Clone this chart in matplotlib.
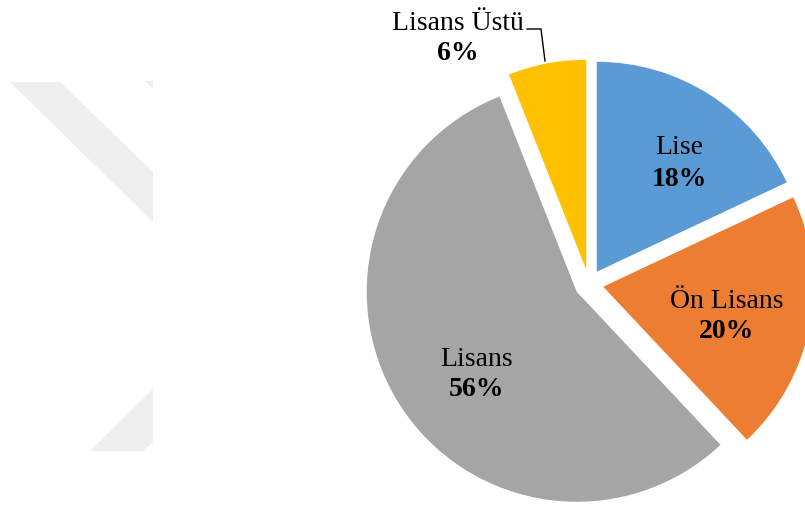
import matplotlib
matplotlib.use("Agg")
import matplotlib.pyplot as plt
from matplotlib.patches import Polygon

# data
categories = ["Lise", "Ön Lisans", "Lisans", "Lisans Üstü"]
shares = [18, 20, 56, 6]
colors = ["#5B9BD5", "#ED7D31", "#A5A5A5", "#FFC000"]

# label anchors in pixel space (x, y from top)
label_pos = [(679, 163), (727, 316), (477, 374), (458, 38)]

W, H = 805, 510


def fy(y):
    return H - y


fig = plt.figure(figsize=(W / 100, H / 100), dpi=100)
ax = fig.add_axes([0, 0, 1, 1])

# faint background watermark on the left
for pts in ([(10, 83), (60, 83), (153, 173), (153, 223)],
            [(145, 82), (153, 82), (153, 90)],
            [(90, 452), (143, 452), (153, 443), (153, 390)]):
    ax.add_patch(Polygon([(x, fy(y)) for x, y in pts], closed=True,
                         facecolor="#EFEFEF", edgecolor="none", zorder=0))

ax.pie(shares, colors=colors, startangle=90, counterclock=False,
       center=(589, fy(285)), radius=210, explode=[14.5] * len(shares),
       wedgeprops=dict(linewidth=0))

for name, val, (x, y) in zip(categories, shares, label_pos):
    ax.text(x, fy(y - 15), name, ha="center", va="center",
            family="Liberation Serif", fontsize=20)
    ax.text(x, fy(y + 16), f"{val}%", ha="center", va="center",
            family="Liberation Serif", fontsize=20, fontweight="bold")

# leader line for the small slice
ax.plot([527, 541, 545], [fy(30), fy(30), fy(62)], color="black", lw=1)

ax.set_xlim(0, W)
ax.set_ylim(0, H)
ax.set_aspect("equal")
ax.axis("off")

fig.savefig("out.png", dpi=100)
